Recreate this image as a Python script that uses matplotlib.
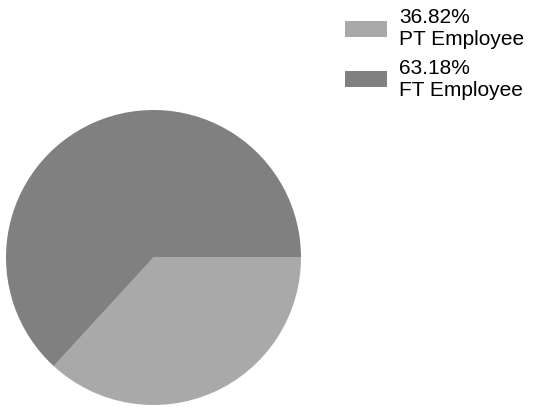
import matplotlib.pyplot as plt

# Employee split
categories = ['PT Employee', 'FT Employee']
shares = [36.82, 63.18]
colors = ['#a9a9a9', '#808080']

plt.rcParams['font.family'] = ['Liberation Sans', 'DejaVu Sans']

fig = plt.figure(figsize=(5.33, 4.08), dpi=100)
ax = fig.add_axes([6 / 533, 3 / 408, 295 / 533, 295 / 408])

wedges, _ = ax.pie(shares, colors=colors, startangle=0, counterclock=False,
                   radius=1, wedgeprops={'linewidth': 0})
ax.set_xlim(-1, 1)
ax.set_ylim(-1, 1)
ax.set_aspect('equal')
ax.axis('off')

labels = [f'{v:.2f}%\n{c}' for v, c in zip(shares, categories)]
leg = fig.legend(wedges, labels, loc='upper left',
                 bbox_to_anchor=(341 / 533, 1 - 4 / 408),
                 frameon=False, fontsize=15, handlelength=2.0,
                 handleheight=0.8, handletextpad=0.6, labelspacing=0.45,
                 borderpad=0.2, borderaxespad=0)

fig.savefig('out.png', dpi=100)
